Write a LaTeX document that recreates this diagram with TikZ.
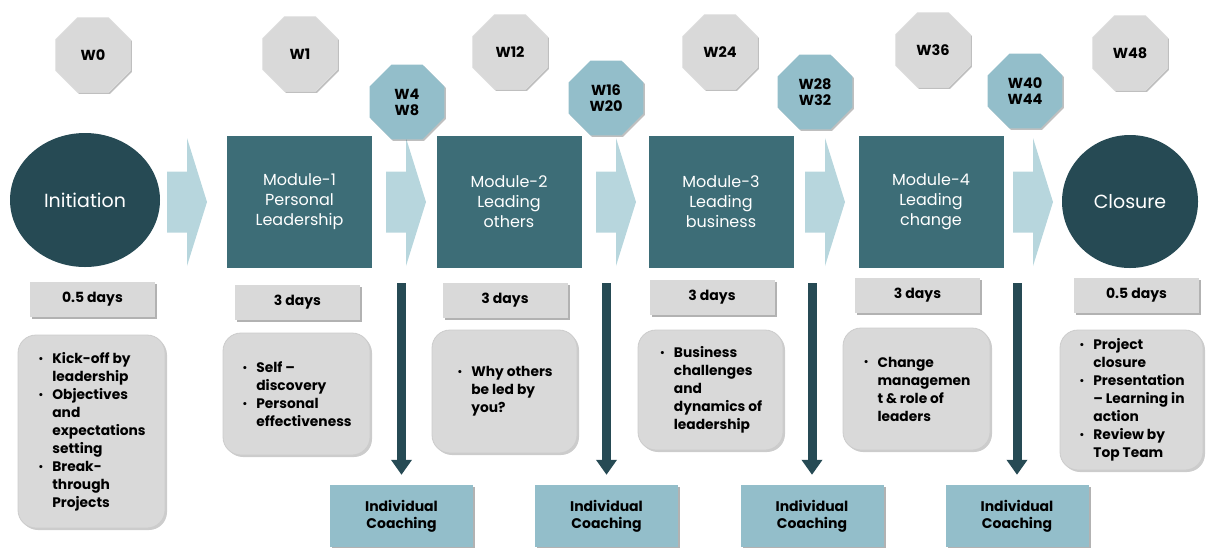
\documentclass[tikz,border=0pt]{standalone}
\usepackage{fontspec}
\setmainfont{Poppins}
\usetikzlibrary{shapes.geometric,arrows.meta,shadows}
\definecolor{octgray}{HTML}{D9D9D9}
\definecolor{octblue}{HTML}{93BECA}
\definecolor{modteal}{HTML}{3D6D77}
\definecolor{darkteal}{HTML}{264A54}
\definecolor{chevcol}{HTML}{B7D6DD}
\definecolor{boxgray}{HTML}{D9D9D9}
\newcommand{\bl}[1]{\makebox[15pt][l]{\hspace*{1pt}\raisebox{1.2pt}{\scalebox{0.75}{•}}}#1}
\newcommand{\ct}[1]{\hspace*{15pt}#1}
\tikzset{
  oct/.style={regular polygon, regular polygon sides=8, minimum size=81pt, inner sep=0pt,
    font=\bfseries\fontsize{14.5}{16}\selectfont, align=center, text=black,
    drop shadow={shadow xshift=1.5pt, shadow yshift=-1.5pt, fill=black, opacity=0.25}},
  octg/.style={oct, fill=octgray, draw=black!12, line width=0.6pt},
  octb/.style={oct, fill=octblue},
  endpt/.style={ellipse, fill=darkteal, text=white, inner sep=0pt, font=\fontsize{19}{22}\selectfont},
  modbox/.style={rectangle, fill=modteal, text=white, inner sep=0pt, align=center,
    minimum width=145pt, minimum height=132pt, font=\fontsize{16}{20}\selectfont},
  chev/.style={fill=chevcol},
  dur/.style={rectangle, fill=boxgray, inner sep=0pt, minimum width=125pt, minimum height=35pt,
    font=\bfseries\fontsize{14}{16}\selectfont,
    drop shadow={shadow xshift=2pt, shadow yshift=-2pt, fill=black, opacity=0.3}},
  content/.style={rectangle, rounded corners=18pt, fill=boxgray, draw=black!20, line width=0.8pt,
    inner sep=0pt, align=left, font=\bfseries\fontsize{13.8}{18}\selectfont,
    drop shadow={shadow xshift=2pt, shadow yshift=-2pt, fill=black, opacity=0.2}},
  coach/.style={rectangle, fill=octblue, inner sep=0pt, minimum width=143pt, minimum height=62pt,
    align=center, font=\bfseries\fontsize{14}{17}\selectfont,
    drop shadow={shadow xshift=2pt, shadow yshift=-2pt, fill=black, opacity=0.3}},
  down/.style={draw=darkteal, line width=9pt, -{Triangle[width=20pt,length=15pt]}, shorten >=10pt},
}
\begin{document}
\begin{tikzpicture}[x=1pt,y=-1pt]
\useasboundingbox (0,0) rectangle (1206,547);
\clip (0,0) rectangle (1206,547);
% chevrons
\foreach \cx in {167,386,596,805,1013}{
  \fill[chev] (\cx,171.5) -- (\cx+20,171.5) -- (\cx+20,138) -- (\cx+40,202) -- (\cx+20,266) -- (\cx+20,232.5) -- (\cx,232.5) -- cycle;
}
% main row
\node[endpt, minimum width=150pt, minimum height=134pt] (init) at (85,200) {Initiation};
\node[modbox] (m1) at (299.5,202) {Module-1\\Personal\\Leadership};
\node[modbox] (m2) at (509,202) {Module-2\\Leading\\others};
\node[modbox] (m3) at (721,202) {Module-3\\Leading\\business};
\node[modbox] (m4) at (931,202) {Module-4\\Leading\\change};
\node[endpt, minimum width=136pt, minimum height=133pt] (clos) at (1130,201.5) {Closure};
% week octagons
\node[octg] (w0) at (93,55) {W0};
\node[octg] (w1) at (300,54) {W1};
\node[octg] (w12) at (510,52) {W12};
\node[octg] (w24) at (720,52) {W24};
\node[octg] (w36) at (933,50) {W36};
\node[octg] (w48) at (1130,53) {W48};
\node[octb] (w4) at (407,102) {W4\\W8};
\node[octb] (w16) at (606,98) {W16\\W20};
\node[octb] (w28) at (815,92) {W28\\W32};
\node[octb] (w40) at (1025,91) {W40\\W44};
% durations
\node[dur] (d0) at (92.5,299.5) {0.5 days};
\node[dur] (d1) at (297.5,302.5) {3 days};
\node[dur] (d2) at (505,300.5) {3 days};
\node[dur] (d3) at (712,297.5) {3 days};
\node[dur] (d4) at (917.5,295) {3 days};
\node[dur] (d5) at (1136.5,295.5) {0.5 days};
% content boxes
\node[content, minimum width=147pt, minimum height=193pt] (c0) at (91.5,431.5)
  {\bl{Kick-off by}\\\ct{leadership}\\\bl{Objectives}\\\ct{and}\\\ct{expectations}\\\ct{setting}\\\bl{Break-}\\\ct{through}\\\ct{Projects}};
\node[content, minimum width=147pt, minimum height=122pt] (c1) at (296.5,394)
  {\bl{Self –}\\\ct{discovery}\\\bl{Personal}\\\ct{effectiveness}};
\node[content, minimum width=145pt, minimum height=123pt] (c2) at (504.5,391.5)
  {\bl{Why others}\\\ct{be led by}\\\ct{you?}};
\node[content, minimum width=145pt, minimum height=120pt] (c3) at (710.5,390)
  {\bl{Business}\\\ct{challenges}\\\ct{and}\\\ct{dynamics of}\\\ct{leadership}};
\node[content, minimum width=147pt, minimum height=122pt] (c4) at (916.5,389)
  {\bl{Change}\\\ct{managemen}\\\ct{t \& role of}\\\ct{leaders}};
\node[content, minimum width=143pt, minimum height=140pt] (c5) at (1131.5,400)
  {\bl{Project}\\\ct{closure}\\\bl{Presentation}\\\ct{– Learning in}\\\ct{action}\\\bl{Review by}\\\ct{Top Team}};
% coaching
\node[coach] (k1) at (401.5,516) {Individual\\Coaching};
\node[coach] (k2) at (606.5,516) {Individual\\Coaching};
\node[coach] (k3) at (812,516) {Individual\\Coaching};
\node[coach] (k4) at (1017,516) {Individual\\Coaching};
\coordinate (s1) at (401.5,283);
\coordinate (s2) at (606.5,283);
\coordinate (s3) at (812,283);
\coordinate (s4) at (1017,283);
\draw[down] (s1) -- (k1.north);
\draw[down] (s2) -- (k2.north);
\draw[down] (s3) -- (k3.north);
\draw[down] (s4) -- (k4.north);
\end{tikzpicture}
\end{document}
